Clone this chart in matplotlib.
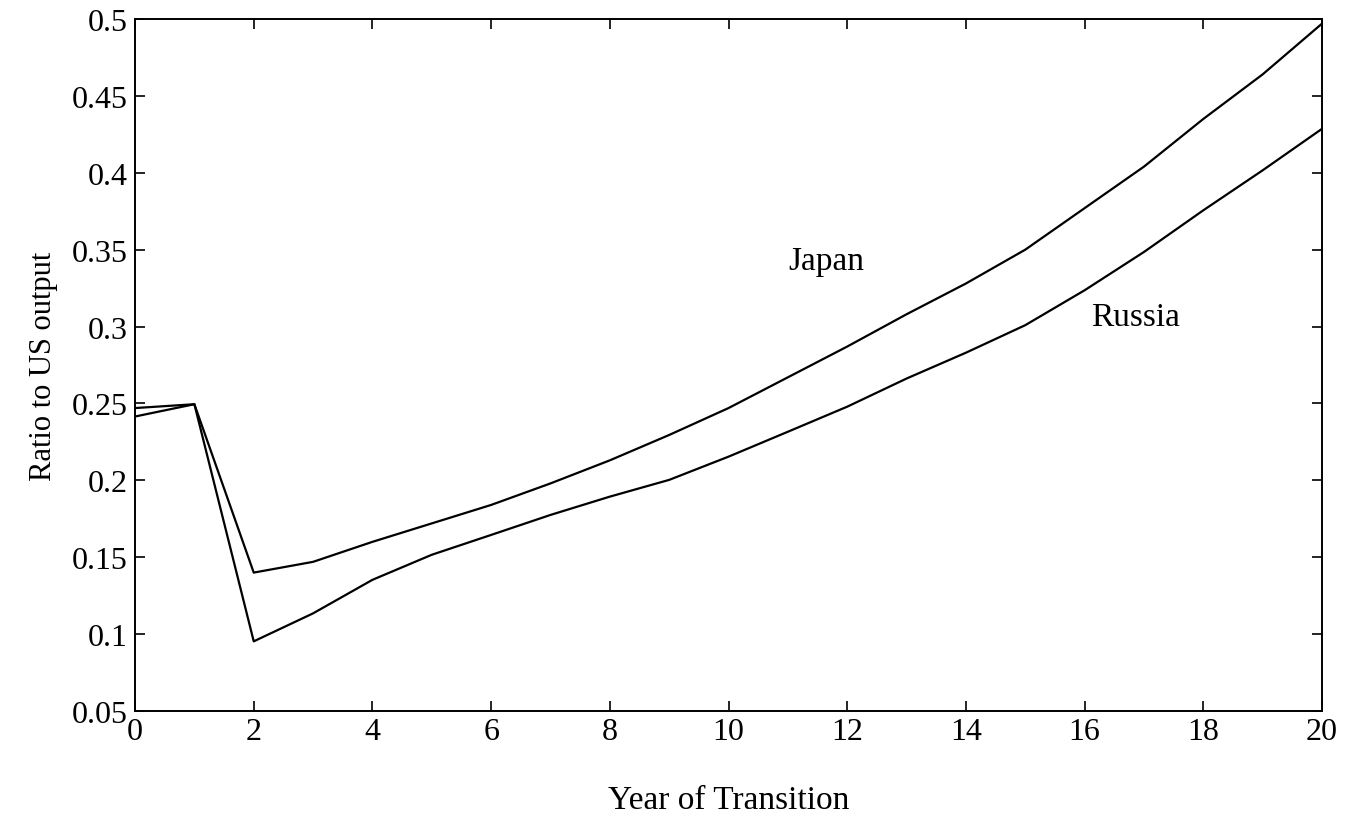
import matplotlib
matplotlib.use("Agg")
import matplotlib.pyplot as plt
from matplotlib.ticker import FuncFormatter

years = list(range(0, 21))

# output relative to the US, by year of transition
japan = [0.247, 0.2495, 0.140, 0.147, 0.160, 0.172, 0.184, 0.198, 0.213, 0.2295,
         0.247, 0.267, 0.287, 0.308, 0.328, 0.350, 0.377, 0.404, 0.435, 0.464, 0.497]
russia = [0.2415, 0.2495, 0.0953, 0.1135, 0.1353, 0.1516, 0.1645, 0.1775, 0.1894, 0.2003,
          0.2154, 0.2316, 0.2479, 0.2662, 0.2830, 0.3009, 0.3236, 0.3485, 0.3756, 0.4016, 0.4286]

labels = {"Japan": (11.64, 0.3427), "Russia": (16.85, 0.3063)}

plt.rcParams["font.family"] = ["Liberation Serif", "DejaVu Serif"]

fig = plt.figure(figsize=(13.45, 8.2), dpi=100)
ax = fig.add_axes([0.1004, 0.1317, 0.8825, 0.8439])

ax.plot(years, japan, color="black", lw=1.6)
ax.plot(years, russia, color="black", lw=1.6)

for name, (x, y) in labels.items():
    ax.text(x, y, name, fontsize=24, ha="center", va="center")

ax.set_xlim(0, 20)
ax.set_ylim(0.05, 0.5)
ax.set_xticks(range(0, 21, 2))
ax.set_yticks([0.05 * i for i in range(1, 11)])
ax.yaxis.set_major_formatter(FuncFormatter(lambda v, _: f"{v:g}"))

ax.tick_params(direction="in", length=7, width=1.2, top=True, right=True,
               labelsize=23)
ax.tick_params(axis="x", pad=4)
ax.tick_params(axis="y", pad=5)
for s in ax.spines.values():
    s.set_linewidth(1.4)

ax.set_xlabel("Year of Transition", fontsize=24, labelpad=28)
ax.set_ylabel("Ratio to US output", fontsize=22, labelpad=10)

fig.savefig("out.png", dpi=100)
